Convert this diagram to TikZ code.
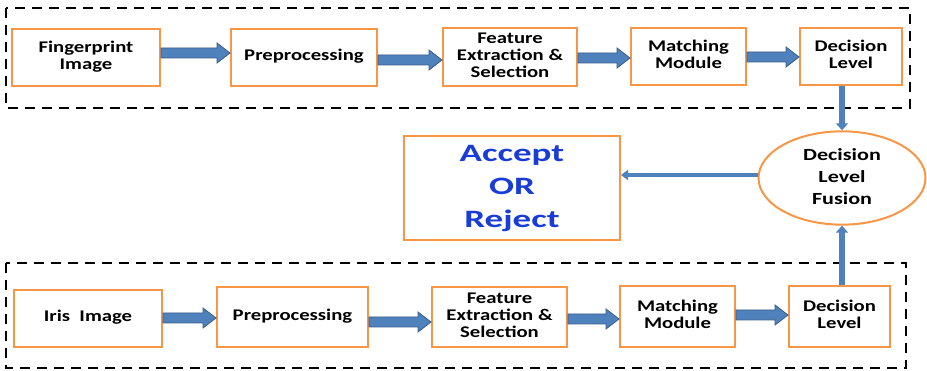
\documentclass[tikz,border=0pt]{standalone}
\usepackage{fontspec}
\usepackage{graphicx}
\setmainfont{Carlito}
\usetikzlibrary{arrows.meta,shapes.geometric,calc}

\definecolor{boxorange}{HTML}{F79646}
\definecolor{arrowblue}{HTML}{4F81BD}
\definecolor{arrowedge}{HTML}{385D8A}
\definecolor{verdict}{HTML}{1A3CD6}

% bold, slightly widened labels
\newcommand{\boxlabel}[1]{\scalebox{1.27}[1]{\fontsize{16.3}{17}\selectfont\bfseries\begin{tabular}{@{}c@{}}#1\end{tabular}}}
\newcommand{\fusionlabel}[1]{\scalebox{1.3}[1]{\fontsize{17}{22}\selectfont\bfseries\begin{tabular}{@{}c@{}}#1\end{tabular}}}
\newcommand{\verdictlabel}[1]{\scalebox{1.48}[1]{\fontsize{25}{33}\selectfont\bfseries\color{verdict}\begin{tabular}{@{}c@{}}#1\end{tabular}}}

\tikzset{
  stage/.style={draw=boxorange, line width=2pt, fill=white, inner sep=0pt},
  frame/.style={draw=black, line width=2.3pt, dash pattern=on 10pt off 7pt},
  blockarrow/.style={draw=arrowedge, fill=arrowblue, line width=0.8pt,
    to path={let \p1=(\tikztostart), \p2=(\tikztotarget) in
      (\x1,\y1+5pt) -- (\x2-13pt,\y1+5pt) -- (\x2-13pt,\y1+10pt) -- (\x2,\y1)
      -- (\x2-13pt,\y1-10pt) -- (\x2-13pt,\y1-5pt) -- (\x1,\y1-5pt) -- cycle}},
  feedarrow/.style={draw=arrowblue, line width=6pt, -{Triangle[width=12pt,length=7pt]}},
  resultarrow/.style={draw=arrowblue, line width=4.5pt, -{Triangle[width=10pt,length=7pt]}}
}

\begin{document}
\begin{tikzpicture}[x=1pt, y=-1pt]
  \useasboundingbox (0,0) rectangle (927,371);

  % dashed frames around the two pipelines
  \draw[frame] (6,8) rectangle (910,108);
  \draw[frame] (6,263) rectangle (906,368);

  % fingerprint pipeline
  \node[stage, minimum width=148pt, minimum height=57pt] (fp)  at (86,57.5)  {\boxlabel{Fingerprint\\Image}};
  \node[stage, minimum width=146pt, minimum height=57pt] (pre) at (304,57.5) {\boxlabel{Preprocessing}};
  \node[stage, minimum width=134pt, minimum height=58pt] (fe)  at (510,57)   {\boxlabel{Feature\\Extraction \&\\Selection}};
  \node[stage, minimum width=115pt, minimum height=57pt] (mm)  at (688.5,56.5) {\boxlabel{Matching\\Module}};
  \node[stage, minimum width=102pt, minimum height=57pt] (dl)  at (851,56.5) {\boxlabel{Decision\\Level}};

  % iris pipeline
  \node[stage, minimum width=148pt, minimum height=57pt] (ii)   at (88,318.5)  {\boxlabel{Iris~ Image}};
  \node[stage, minimum width=151pt, minimum height=60pt] (pre2) at (292.5,317) {\boxlabel{Preprocessing}};
  \node[stage, minimum width=135pt, minimum height=60pt] (fe2)  at (499.5,317) {\boxlabel{Feature\\Extraction \&\\Selection}};
  \node[stage, minimum width=115pt, minimum height=61pt] (mm2)  at (677.5,316.5) {\boxlabel{Matching\\Module}};
  \node[stage, minimum width=101pt, minimum height=61pt] (dl2)  at (839.5,316.5) {\boxlabel{Decision\\Level}};

  % fusion and verdict
  \node[stage, ellipse, minimum width=167pt, minimum height=76pt] (fus) at (842,178) {\fusionlabel{Decision\\Level\\Fusion}};
  \node[stage, minimum width=216pt, minimum height=104pt] (acc) at (512,188) {\verdictlabel{Accept\\OR\\Reject}};

  % block arrows along each pipeline
  \draw[blockarrow] ([yshift=4.5pt]fp.east)  to (pre.west);
  \draw[blockarrow] ([yshift=-2.5pt]pre.east) to (fe.west);
  \draw[blockarrow] ([yshift=-1pt]fe.east)   to (mm.west);
  \draw[blockarrow] ([yshift=-0.5pt]mm.east) to (dl.west);

  \draw[blockarrow] ([yshift=0.5pt]ii.east)   to (pre2.west);
  \draw[blockarrow] ([yshift=-5pt]pre2.east)  to (fe2.west);
  \draw[blockarrow] ([yshift=-2pt]fe2.east)   to (mm2.west);
  \draw[blockarrow] ([yshift=1.5pt]mm2.east)  to (dl2.west);

  % decisions into fusion, fusion into verdict
  \draw[feedarrow] (dl.south -| fus.north) -- (fus.north);
  \draw[feedarrow] (dl2.north -| fus.south) -- (fus.south);
  \draw[resultarrow] ([yshift=3pt]fus.west) -- ([yshift=3pt]fus.west -| acc.east);
\end{tikzpicture}
\end{document}
